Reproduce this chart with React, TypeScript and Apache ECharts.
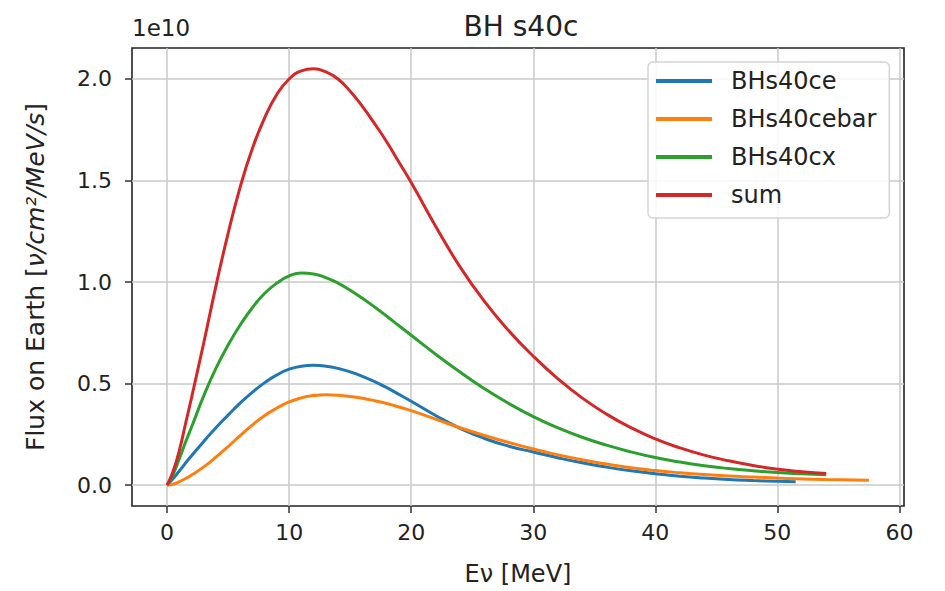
import React, { useEffect, useRef } from "react";
import * as echarts from "echarts";

const energy = [0, 0.5, 1, 1.5, 2, 3, 4, 5, 6, 7, 8, 9, 10, 11, 12, 13, 14, 15, 16, 17, 18, 19, 20, 22, 24, 26, 28, 30, 32, 34, 36, 38, 40, 42, 44, 46, 48, 50, 51.5, 54, 57.5];

const ceFlux = [0, 0.033, 0.07, 0.108, 0.145, 0.215, 0.283, 0.345, 0.405, 0.458, 0.505, 0.543, 0.571, 0.586, 0.59, 0.586, 0.575, 0.558, 0.536, 0.51, 0.48, 0.447, 0.413, 0.343, 0.28, 0.23, 0.192, 0.163, 0.135, 0.11, 0.089, 0.071, 0.056, 0.044, 0.035, 0.028, 0.023, 0.019, 0.017];

const cebarFlux = [0, 0.005, 0.017, 0.032, 0.05, 0.09, 0.138, 0.19, 0.245, 0.297, 0.343, 0.38, 0.41, 0.43, 0.441, 0.445, 0.443, 0.437, 0.428, 0.416, 0.402, 0.385, 0.367, 0.325, 0.283, 0.245, 0.21, 0.178, 0.15, 0.125, 0.104, 0.086, 0.072, 0.061, 0.052, 0.045, 0.04, 0.035, 0.032, 0.028, 0.024];

const cxFlux = [0, 0.055, 0.13, 0.21, 0.285, 0.44, 0.575, 0.69, 0.79, 0.875, 0.945, 0.995, 1.03, 1.045, 1.04, 1.022, 0.995, 0.96, 0.92, 0.877, 0.832, 0.785, 0.738, 0.645, 0.557, 0.475, 0.402, 0.338, 0.283, 0.236, 0.197, 0.164, 0.136, 0.114, 0.096, 0.082, 0.071, 0.062, 0.057, 0.051];

const sumFlux = [0, 0.07, 0.17, 0.3, 0.43, 0.7, 0.98, 1.24, 1.47, 1.66, 1.81, 1.925, 2.0, 2.04, 2.05, 2.035, 2.0, 1.94, 1.865, 1.78, 1.69, 1.59, 1.49, 1.275, 1.075, 0.905, 0.76, 0.635, 0.525, 0.43, 0.35, 0.283, 0.228, 0.184, 0.148, 0.12, 0.097, 0.079, 0.069, 0.058];

const seriesNames = ["BHs40ce", "BHs40cebar", "BHs40cx", "sum"];
const seriesColors = ["#1f77b4", "#ff7f0e", "#2ca02c", "#d62728"];
const seriesValues = [ceFlux, cebarFlux, cxFlux, sumFlux];

const xTicks = [0, 10, 20, 30, 40, 50, 60];
const yTicks = [0, 0.5, 1.0, 1.5, 2.0];

const FONT = '"DejaVu Sans", "Liberation Sans", sans-serif';

export default function App() {
  const ref = useRef<HTMLDivElement>(null);

  useEffect(() => {
    if (!ref.current) return;
    document.body.style.margin = "0";
    const chart = echarts.init(ref.current, null, { renderer: "svg" });
    const option = {
      animation: false,
      backgroundColor: "#ffffff",
      title: {
        text: "BH s40c",
        left: 516,
        top: 7,
        textAlign: "center",
        textStyle: { fontSize: 28, fontWeight: "normal", fontFamily: FONT, color: "#222" },
      },
      graphic: [
        {
          type: "text",
          left: 132,
          top: 16,
          style: { text: "1e10", fontSize: 23, fontFamily: FONT, fill: "#222" },
        },
      ],
      legend: {
        orient: "vertical",
        left: 648,
        top: 62,
        padding: [7, 13, 11, 8],
        itemGap: 14,
        itemWidth: 56,
        itemHeight: 4,
        icon: "rect",
        backgroundColor: "rgba(255,255,255,0.85)",
        borderColor: "#d4d4d4",
        borderWidth: 1.5,
        borderRadius: 5,
        textStyle: { fontSize: 24, fontFamily: FONT, color: "#222", padding: [0, 0, 0, 14], lineHeight: 24 },
        data: seriesNames,
      },
      grid: {
        left: 132,
        right: 41,
        top: 48,
        bottom: 82,
        show: true,
        borderColor: "#222",
        borderWidth: 1.6,
        containLabel: false,
      },
      xAxis: {
        type: "value",
        min: -2.875,
        max: 60.375,
        name: "Eν [MeV]",
        nameLocation: "middle",
        nameGap: 56,
        nameTextStyle: { fontSize: 24, fontFamily: FONT, color: "#222" },
        axisLine: { show: false, onZero: false },
        axisTick: { show: true, length: 7, customValues: xTicks, lineStyle: { color: "#333", width: 1.5 } },
        axisLabel: {
          customValues: xTicks,
          margin: 15,
          fontSize: 22,
          fontFamily: FONT,
          color: "#222",
          formatter: (v: number) => String(Math.round(v)),
        },
        splitLine: { show: true, lineStyle: { color: "#c8c8c8", width: 1.5 } },
      },
      yAxis: {
        type: "value",
        min: -0.1025,
        max: 2.1525,
        name: "{n|Flux on Earth [}{i|ν/cm²/MeV/s}{n|]}",
        nameLocation: "middle",
        nameGap: 84,
        nameTextStyle: {
          fontSize: 25,
          fontFamily: FONT,
          color: "#222",
          rich: {
            n: { fontSize: 25, fontFamily: FONT, color: "#222" },
            i: { fontSize: 25, fontFamily: FONT, fontStyle: "italic", color: "#222" },
          },
        },
        axisLine: { show: false, onZero: false },
        axisTick: { show: true, length: 7, customValues: yTicks, lineStyle: { color: "#333", width: 1.5 } },
        axisLabel: {
          customValues: yTicks,
          margin: 20,
          fontSize: 22,
          fontFamily: FONT,
          color: "#222",
          formatter: (v: number) => v.toFixed(1),
        },
        splitLine: { show: true, lineStyle: { color: "#c8c8c8", width: 1.5 } },
      },
      series: seriesNames.map((name, i) => ({
        name,
        type: "line",
        data: seriesValues[i].map((v, k) => [energy[k], v]),
        showSymbol: false,
        symbol: "none",
        smooth: 0.5,
        lineStyle: { color: seriesColors[i], width: 3 },
        itemStyle: { color: seriesColors[i] },
        clip: true,
      })),
    };
    chart.setOption(option as any);
    return () => chart.dispose();
  }, []);

  return <div ref={ref} style={{ width: 945, height: 591 }} />;
}
